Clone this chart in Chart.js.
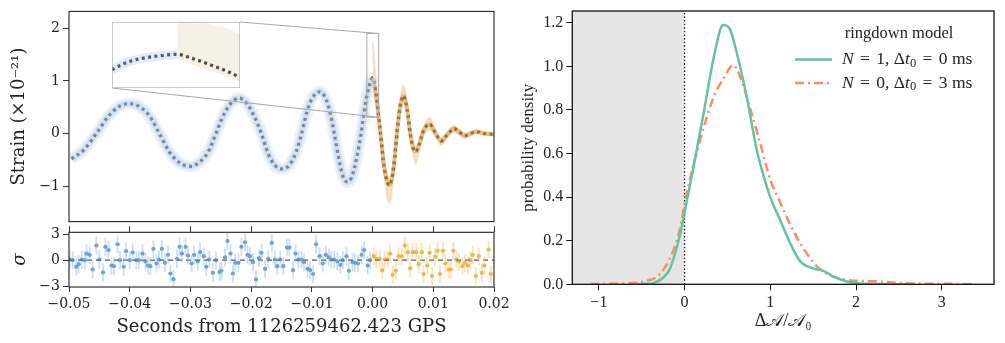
<!DOCTYPE html>
<html><head><meta charset="utf-8">
<script src="https://cdn.jsdelivr.net/npm/chart.js@4.4.0/dist/chart.umd.min.js"></script>
<style>
html,body{margin:0;padding:0;background:#fff;width:1005px;height:343px;overflow:hidden}
.c{position:absolute}
canvas{display:block}
</style></head><body>
<div class="c" style="left:0;top:0;width:500px;height:233px"><canvas id="main" width="500" height="233"></canvas></div>
<div class="c" style="left:0;top:220px;width:520px;height:123px"><canvas id="resid" width="520" height="123"></canvas></div>
<div class="c" style="left:112px;top:22px;width:128px;height:66px"><canvas id="inset" width="128" height="66"></canvas></div>
<div class="c" style="left:500px;top:0;width:505px;height:343px"><canvas id="right" width="505" height="343"></canvas></div>
<script>
// ---------------- DATA ----------------
// whitened strain (x1e-21), median waveform
const strainT = [-0.0496,-0.0475,-0.0455,-0.0435,-0.0418,-0.0400,-0.0382,-0.0366,-0.0351,-0.0335,-0.0318,-0.0301,-0.0285,-0.0270,-0.0258,-0.0245,-0.0233,-0.0220,-0.0207,-0.0195,-0.0183,-0.0172,-0.0161,-0.0148,-0.0136,-0.0126,-0.0117,-0.0108,-0.0099,-0.0087,-0.0077,-0.0070,-0.0063,-0.0056,-0.0049,-0.0041,-0.0033,-0.0026,-0.0019,-0.0012,-0.0005,0.0,0.0006,0.0013,0.0020,0.0028,0.0035,0.0040,0.0046,0.0051,0.0057,0.0062,0.0067,0.0071,0.0077,0.0084,0.0094,0.0103,0.0113,0.0123,0.0134,0.0143,0.0152,0.0161,0.0171,0.0185,0.0200];
const strainH = [-0.48,-0.30,0.0,0.33,0.51,0.57,0.50,0.31,0.0,-0.34,-0.55,-0.62,-0.54,-0.33,0.0,0.36,0.58,0.675,0.57,0.33,0.0,-0.38,-0.60,-0.67,-0.58,-0.35,0.0,0.42,0.68,0.795,0.66,0.40,0.0,-0.45,-0.80,-0.92,-0.78,-0.45,0.0,0.55,0.93,1.06,0.72,0.0,-0.70,-0.98,-0.62,0.0,0.55,0.72,0.45,0.0,-0.28,-0.34,-0.20,0.06,0.18,0.02,-0.14,-0.02,0.095,0.03,-0.04,0.0,0.035,0.0,-0.01];
// ringdown credible band
const ringT     = [0,0.0006,0.0013,0.0020,0.0028,0.0035,0.0040,0.0046,0.0051,0.0057,0.0062,0.0067,0.0071,0.0077,0.0084,0.0094,0.0103,0.0113,0.0123,0.0134,0.0143,0.0152,0.0162,0.0171,0.0185,0.0200];
const ringUpper = [1.75,0.92,0.10,-0.56,-0.86,-0.50,0.10,0.68,0.90,0.58,0.08,-0.20,-0.24,-0.12,0.12,0.30,0.08,-0.08,0.03,0.15,0.08,0.01,0.04,0.07,0.03,0.02];
const ringLower = [0.90,0.50,-0.12,-0.88,-1.32,-0.76,-0.10,0.42,0.58,0.32,-0.08,-0.38,-0.58,-0.32,-0.03,0.08,-0.04,-0.22,-0.08,0.03,-0.02,-0.09,-0.04,0.00,-0.03,-0.04];
// inset (zoom around merger)
const insetT = [-0.00094,-0.00071,-0.00046,-0.00020,0.00005,0.00030,0.00055,0.00081,0.00099];
const insetH = [0.75,0.93,1.03,1.09,1.12,1.01,0.87,0.71,0.575];
const insetRingT = [0.00005,0.00030,0.00055,0.00081,0.001];
const insetRingUpper = [1.9,1.9,1.85,1.75,1.6];
const insetRingLower = [1.02,0.86,0.72,0.58,0.46];
const insetTRange = [-0.00094, 0.001];
const insetHRange = [0.31, 1.9];
// whitened residuals (sigma)
const residTBlue = [-49.9,-49.4,-48.8,-48.4,-47.9,-47.4,-47.1,-46.6,-46.1,-45.5,-45.0,-44.4,-44.0,-43.5,-43.0,-42.6,-42.0,-41.6,-41.0,-40.6,-40.0,-39.5,-38.9,-38.5,-37.9,-37.4,-37.0,-36.6,-36.1,-35.6,-35.2,-34.7,-34.2,-33.7,-33.3,-32.8,-32.2,-31.8,-31.4,-30.8,-30.4,-29.8,-29.4,-28.8,-28.4,-27.8,-27.4,-26.9,-26.3,-25.8,-25.2,-24.9,-24.3,-23.9,-23.4,-23.0,-22.6,-22.1,-21.6,-21.0,-20.6,-20.2,-19.7,-19.2,-18.7,-18.3,-17.7,-17.2,-16.6,-16.1,-15.7,-15.2,-14.7,-14.1,-13.7,-13.1,-12.7,-12.2,-11.7,-11.3,-10.7,-10.3,-9.8,-9.3,-8.7,-8.2,-7.7,-7.2,-6.8,-6.3,-5.8,-5.3,-4.9,-4.3,-3.9,-3.3,-2.9,-2.4,-1.8,-1.4,-0.8,-0.4];
const residBlue = [0.08,0,-0.76,-0.46,0.08,0,0.76,0.61,-1.07,1.68,0.08,-1.41,1.53,1.15,-0.61,-0.69,1.83,0,-0.76,1.03,0,0.88,0,0,0.76,-0.15,-0.61,-0.69,1.3,-0.38,0.08,1.3,-0.31,0.61,-1.53,-2.18,0.15,1.53,0.76,1.53,0.53,-0.38,0.61,-0.15,0.92,0.46,-0.76,0.08,-1.45,0,-1.37,-1.22,0.31,2.21,0.76,-1.53,-0.31,-0.31,1.53,2.06,0.61,0.46,-0.23,-2.21,0.23,0.84,-0.99,0.15,1.98,0.08,-0.69,0.08,-0.69,1.45,1.45,-1.15,0.76,0.08,0.08,-0.23,-0.99,-1.15,-1.6,1.83,0.46,-0.38,0.61,0.31,0.08,0.08,-0.15,-0.53,0,0.46,-1.22,-0.23,-0.31,-0.38,0.61,1.15,-0.61,0];
const residTOrange = [0.2,0.6,1.2,1.6,2.0,2.5,2.9,3.3,3.8,4.3,4.8,5.3,5.8,6.2,6.6,7.2,7.6,8.1,8.4,9.0,9.4,9.8,10.3,10.7,11.1,11.6,12.0,12.5,12.9,13.3,13.8,14.2,14.8,15.2,15.7,16.1,16.5,17.0,17.5,18.0,18.4,19.1,19.5];
const residOrange = [0.46,0.15,0.15,-1.15,0.08,0.08,0.76,-1.68,-1.22,0.46,0.46,1.68,0.92,-0.92,0.92,0.92,-0.46,0.92,-1.6,-0.61,0.84,-1.83,0.38,1.07,-1.6,1.07,-0.38,-1.07,-1.07,1.07,0.08,-0.15,-0.69,-0.31,-0.61,0,0.61,-1.83,0.46,-1.45,-0.61,1.22,-1.6];
const residErr = 1;
// amplitude posterior densities
const seriesLabels = ['N = 1, Δt0 = 0 ms', 'N = 0, Δt0 = 3 ms'];
const greenX = [-0.6,-0.45,-0.36,-0.25,-0.17,-0.07,-0.03,0.0,0.1,0.22,0.34,0.45,0.53,0.61,0.73,0.84,0.92,1.0,1.12,1.23,1.35,1.5,1.62,1.74,1.9,2.05,2.3,2.6];
const greenY = [0,0.002,0.006,0.03,0.073,0.2,0.27,0.33,0.53,0.78,1.04,1.19,1.17,1.06,0.85,0.62,0.5,0.4,0.29,0.19,0.105,0.073,0.062,0.035,0.012,0.004,0.001,0];
const orangeX = [-1.1,-0.9,-0.7,-0.48,-0.28,-0.13,-0.05,0.01,0.18,0.34,0.455,0.57,0.65,0.77,0.88,1.0,1.1,1.25,1.4,1.55,1.7,1.9,2.1,2.3,2.5,2.8,3.1,3.4];
const orangeY = [0.001,0.002,0.004,0.012,0.05,0.157,0.26,0.39,0.66,0.86,0.945,1.005,0.95,0.8,0.65,0.48,0.39,0.26,0.157,0.08,0.04,0.02,0.015,0.012,0.006,0.003,0.002,0];
// tick labels
const mainYTicks = [-1,0,1,2];
const residYTicks = [-3,0,3];
const timeTicks = [-0.05,-0.04,-0.03,-0.02,-0.01,0.00,0.01,0.02];
const ampXTicks = [-1,0,1,2,3];
const densTicks = [0,0.2,0.4,0.6,0.8,1.0,1.2];

// ---------------- HELPERS ----------------
const pts = (xs, ys) => xs.map((x,i)=>({x, y: ys[i]}));
const setTicks = arr => s => { s.ticks = arr.map(v=>({value:v})); };
const minus = s => String(s).replace('-', '\u2212');
const LF = 'DejaVu Serif';
const RF = 'Liberation Serif';
Chart.defaults.font.family = LF;
Chart.defaults.color = '#222';

const framePlugin = { id:'frame', afterDraw(chart, a, o){ const {ctx, chartArea:c} = chart; ctx.save(); ctx.strokeStyle=o.color||'#222'; ctx.lineWidth=o.width||1; ctx.strokeRect(c.left, c.top, c.right-c.left, c.bottom-c.top); ctx.restore(); } };
const whiteBg = { id:'whiteBg', beforeDraw(chart){ const ctx=chart.ctx; ctx.save(); ctx.fillStyle='#fff'; ctx.fillRect(0,0,chart.width,chart.height); ctx.restore(); } };

const INSET_BOX = {left:112, top:22, width:128, height:66};
const connectorPlugin = { id:'connector', afterDatasetsDraw(chart){
  const {ctx, scales:{x, y}} = chart;
  const bx0 = x.getPixelForValue(insetTRange[0]), bx1 = x.getPixelForValue(insetTRange[1]);
  const by0 = y.getPixelForValue(insetHRange[1]), by1 = y.getPixelForValue(insetHRange[0]);
  ctx.save(); ctx.strokeStyle='#a8a8a8'; ctx.lineWidth=1;
  ctx.strokeRect(bx0, by0, bx1-bx0, by1-by0);
  ctx.beginPath();
  ctx.moveTo(INSET_BOX.left+INSET_BOX.width, INSET_BOX.top); ctx.lineTo(bx1, by0);
  ctx.moveTo(INSET_BOX.left, INSET_BOX.top+INSET_BOX.height); ctx.lineTo(bx1, by1);
  ctx.stroke(); ctx.restore();
} };

const inspIdx = strainT.map((t,i)=>i).filter(i=>strainT[i]<=0);
const ringIdx = strainT.map((t,i)=>i).filter(i=>strainT[i]>=0);
const blueBand = inspIdx.map(i=>({x:strainT[i], y:strainH[i]}));
const orangeCore = ringIdx.map(i=>({x:strainT[i], y:strainH[i]}));
const lineDs = (data, o) => Object.assign({type:'line', data, pointRadius:0, borderWidth:1, fill:false, cubicInterpolationMode:'monotone'}, o);
const dotted = {borderColor:'#000', borderWidth:3.2, borderDash:[3,3.4], borderCapStyle:'butt'};

// ---------------- MAIN STRAIN ----------------
new Chart(document.getElementById('main'), {
  type:'line',
  data:{ datasets:[
    lineDs(blueBand, {borderColor:'rgba(200,217,240,0.35)', borderWidth:12}),
    lineDs(blueBand, {borderColor:'rgba(175,200,234,0.45)', borderWidth:7}),
    lineDs(pts(ringT, ringUpper), {borderColor:'rgba(228,185,120,0.3)', borderWidth:2, fill:'+1', backgroundColor:'rgba(226,175,100,0.35)'}),
    lineDs(pts(ringT, ringLower), {borderColor:'rgba(228,185,120,0.3)', borderWidth:2}),
    lineDs(orangeCore, {borderColor:'rgba(205,140,45,0.5)', borderWidth:4}),
    lineDs(pts(strainT, strainH), dotted)
  ]},
  options:{
    responsive:false, animation:false, devicePixelRatio:1,
    layout:{padding:{left:0,right:6,top:10,bottom:1}},
    plugins:{legend:{display:false}, tooltip:{enabled:false}, frame:{color:'#222', width:1.1}},
    scales:{
      x:{type:'linear', min:-0.05, max:0.02, display:false},
      y:{type:'linear', min:-1.67, max:2.32, afterBuildTicks:setTicks(mainYTicks), afterFit(s){s.width=69;},
         ticks:{callback:v=>minus(v), font:{size:14, family:LF}, color:'#222', padding:3},
         grid:{drawOnChartArea:false, tickLength:6, color:'#333', tickWidth:1},
         border:{display:false},
         title:{display:true, text:'Strain (×10⁻²¹)', font:{size:18, family:LF}, color:'#222', padding:{top:9,bottom:0}}}
    }
  },
  plugins:[connectorPlugin, framePlugin]
});

// ---------------- INSET ----------------
new Chart(document.getElementById('inset'), {
  type:'line',
  data:{ datasets:[
    lineDs(pts(insetT, insetH).filter(p=>p.x<=0.0001), {borderColor:'rgba(190,210,238,0.45)', borderWidth:9}),
    lineDs(pts(insetRingT, insetRingUpper), {borderWidth:0, borderColor:'rgba(0,0,0,0)', fill:'+1', backgroundColor:'rgba(232,212,180,0.35)'}),
    lineDs(pts(insetRingT, insetRingLower), {borderWidth:0, borderColor:'rgba(0,0,0,0)'}),
    lineDs(pts(insetT, insetH), dotted)
  ]},
  options:{
    responsive:false, animation:false, devicePixelRatio:1,
    layout:{padding:0},
    plugins:{legend:{display:false}, tooltip:{enabled:false}, frame:{color:'#a8a8a8', width:1.2}},
    scales:{ x:{type:'linear', min:insetTRange[0], max:insetTRange[1], display:false},
             y:{type:'linear', min:insetHRange[0], max:insetHRange[1], display:false} }
  },
  plugins:[whiteBg, framePlugin]
});

// ---------------- RESIDUALS ----------------
const errData = (ts, vs) => ts.map((t,i)=>({x:t/1000, y:[vs[i]-residErr, vs[i]+residErr]}));
const ptData = (ts, vs) => ts.map((t,i)=>({x:t/1000, y:vs[i]}));
new Chart(document.getElementById('resid'), {
  type:'scatter',
  data:{ datasets:[
    {type:'bar', data:errData(residTBlue, residBlue), backgroundColor:'rgba(130,178,226,0.4)', barThickness:1.2, grouped:false, borderWidth:0},
    {type:'bar', data:errData(residTOrange, residOrange), backgroundColor:'rgba(238,195,110,0.45)', barThickness:1.2, grouped:false, borderWidth:0},
    {type:'line', data:[{x:-0.05,y:0},{x:0.02,y:0}], borderColor:'#555', borderWidth:1.2, borderDash:[5,4], pointRadius:0},
    {type:'scatter', data:ptData(residTBlue, residBlue), backgroundColor:'rgba(86,148,205,0.9)', borderWidth:0, pointRadius:2.1},
    {type:'scatter', data:ptData(residTOrange, residOrange), backgroundColor:'rgba(230,168,48,0.9)', borderWidth:0, pointRadius:2.1}
  ]},
  options:{
    responsive:false, animation:false, devicePixelRatio:1,
    layout:{padding:{left:0,right:26,top:0,bottom:0}},
    plugins:{legend:{display:false}, tooltip:{enabled:false}, frame:{color:'#222', width:1.1}},
    scales:{
      x:{type:'linear', position:'bottom', min:-0.05, max:0.02, offset:false, afterBuildTicks:setTicks(timeTicks), afterFit(s){s.height=56; s.paddingLeft=0; s.paddingRight=0;},
         ticks:{callback:v=>minus(v.toFixed(2)), font:{size:14, family:LF}, color:'#222', padding:4, maxRotation:0, autoSkip:false},
         grid:{drawOnChartArea:false, tickLength:5, color:'#333', offset:false},
         border:{display:false},
         title:{display:true, text:'Seconds from 1126259462.423 GPS', font:{size:18, family:LF}, color:'#222', padding:{top:0,bottom:5}}},
      xTop:{type:'linear', position:'top', min:-0.05, max:0.02, afterBuildTicks:setTicks(timeTicks), afterFit(s){s.height=12.3; s.paddingLeft=0; s.paddingRight=0;},
         ticks:{display:false}, grid:{drawOnChartArea:false, tickLength:6, color:'#333'}, border:{display:false}},
      y:{type:'linear', min:-3.08, max:3.2, afterBuildTicks:setTicks(residYTicks), afterFit(s){s.width=69; s.paddingTop=0; s.paddingBottom=0;},
         ticks:{callback:v=>minus(v), font:{size:14, family:LF}, color:'#222', padding:3},
         grid:{drawOnChartArea:false, tickLength:6, color:'#333'},
         border:{display:false},
         title:{display:true, text:'σ', font:{size:18, family:LF, style:'italic'}, color:'#222', padding:{top:10,bottom:0}}}
    }
  },
  plugins:[framePlugin]
});

// ---------------- RIGHT: DENSITY ----------------
const shadePlugin = { id:'shade', beforeDatasetsDraw(chart){
  const {ctx, chartArea:c, scales:{x}} = chart;
  const x0 = x.getPixelForValue(0);
  ctx.save(); ctx.fillStyle='#e5e5e5'; ctx.fillRect(c.left, c.top, x0-c.left, c.bottom-c.top); ctx.restore();
} };
function drawRich(ctx, text, x, y, size){
  let cx = x; let prev = '';
  for (const ch of text){
    let font = `${size}px "${RF}"`, dy = 0;
    if (ch==='N' || ch==='t') font = `italic ${size}px "${RF}"`;
    if (ch==='0' && prev==='t'){ font = `${size*0.72}px "${RF}"`; dy = size*0.22; }
    if (ch==='=') cx += 2;
    ctx.font = font; ctx.fillText(ch, cx, y+dy); cx += ctx.measureText(ch).width;
    if (ch==='=') cx += 2;
    prev = ch;
  }
}
const legendPlugin = { id:'richLegend', afterDraw(chart){
  const {ctx, chartArea:c} = chart;
  ctx.save(); ctx.fillStyle='#222'; ctx.textBaseline='middle';
  ctx.font = `16.5px "${RF}"`; ctx.textAlign='center';
  ctx.fillText('ringdown model', c.right-95, 33.5);
  ctx.textAlign='left';
  const ys = [59.5, 83];
  chart.data.datasets.slice(0,2).forEach((d,i)=>{
    ctx.save(); ctx.strokeStyle=d.borderColor; ctx.lineWidth=d.borderWidth; ctx.setLineDash(d.borderDash||[]);
    ctx.beginPath(); ctx.moveTo(c.right-199, ys[i]); ctx.lineTo(c.right-162, ys[i]); ctx.stroke(); ctx.restore();
    drawRich(ctx, seriesLabels[i], c.right-152, ys[i], 17.5);
  });
  ctx.restore();
} };
new Chart(document.getElementById('right'), {
  type:'line',
  data:{ datasets:[
    lineDs(pts(greenX, greenY), {borderColor:'#66c2a5', borderWidth:2.5, label:seriesLabels[0]}),
    lineDs(pts(orangeX, orangeY), {borderColor:'#fc8d62', borderWidth:2.5, borderDash:[9,4,2,4], label:seriesLabels[1]}),
    lineDs([{x:0,y:0},{x:0,y:1.3}], {borderColor:'#111', borderWidth:1.3, borderDash:[1.4,2.2], cubicInterpolationMode:'default'})
  ]},
  options:{
    responsive:false, animation:false, devicePixelRatio:1,
    layout:{padding:{left:0,right:11,top:11,bottom:0}},
    plugins:{legend:{display:false}, tooltip:{enabled:false}, frame:{color:'#111', width:1.3}},
    scales:{
      x:{type:'linear', min:-1.31, max:3.61, afterBuildTicks:setTicks(ampXTicks), afterFit(s){s.height=58.7; s.paddingLeft=0; s.paddingRight=0;},
         ticks:{callback:v=>minus(v), font:{size:16, family:RF}, color:'#222', padding:3, maxRotation:0, autoSkip:false},
         grid:{drawOnChartArea:false, tickLength:6, color:'#111'}, border:{display:false},
         title:{display:true, text:'Δ𝒜/𝒜₀', font:{size:18, family:RF}, color:'#222', padding:{top:0,bottom:11}}},
      y:{type:'linear', min:0, max:1.254, afterBuildTicks:setTicks(densTicks), afterFit(s){s.width=72.3; s.paddingTop=0; s.paddingBottom=0;},
         ticks:{callback:v=>v.toFixed(1), font:{size:16, family:RF}, color:'#222', padding:3},
         grid:{drawOnChartArea:false, tickLength:6, color:'#111'}, border:{display:false},
         title:{display:true, text:'probability density', font:{size:17, family:RF}, color:'#222', padding:{top:18,bottom:0}}}
    }
  },
  plugins:[shadePlugin, legendPlugin, framePlugin]
});
</script>
</body></html>
